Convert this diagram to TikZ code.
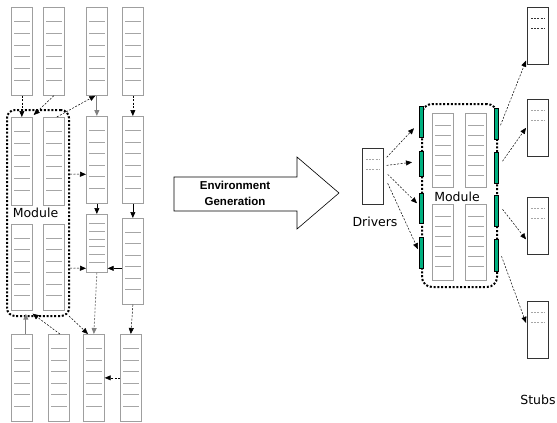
\documentclass[tikz,border=0pt]{standalone}
\usepackage{fontspec}
\setmainfont{DejaVu Sans}
\newfontfamily\arialfont{Liberation Sans}
\usetikzlibrary{arrows.meta}
\definecolor{portgreen}{RGB}{0,176,128}

\begin{document}
\begin{tikzpicture}[x=1pt,y=-1pt,
	regbox/.style={draw=gray!75, line width=0.7pt, rectangle, inner sep=0pt, minimum width=21pt, anchor=north west},
	regline/.style={draw=gray!70, line width=0.6pt},
	stubline/.style={line width=0.5pt, dash pattern=on 2pt off 1.2pt},
	modframe/.style={draw, line width=2pt, dash pattern=on 2pt off 1.8pt, rounded corners=8pt, inner sep=0pt},
	port/.style={draw, fill=portgreen, line width=0.5pt, minimum width=4pt, inner sep=0pt, anchor=north west},
	dep/.style={line width=0.5pt, dash pattern=on 2pt off 1.5pt, -{Triangle[length=6pt,width=5pt]}},
	flow/.style={line width=0.7pt, -{Triangle[length=6pt,width=5pt]}},
	lbl/.style={font=\fontsize{12.5}{15}\selectfont, inner sep=0pt}]

	\useasboundingbox (0,0) rectangle (557,423);

	% ---- left: registers

	\foreach \n/\x/\y/\h in {a1/11/7/88, b1/43/7/88, c1/86/7/88, d1/122/7/88,
		a2/11/117/88, b2/43/117/88, c2/86/116/87, d2/122/116/87,
		a3/11/224/86, b3/43/224/86, c3/86/214/58, d3/122/218/86,
		a4/11/334/87, b4/48/334/87, c4/83/334/87, d4/120/334/87}
	{
		\node[regbox, minimum height=\h pt] (\n) at (\x,\y) {};
		\foreach \k in {0,...,5}
			\draw[regline] ({\x+3},{\y+\h*(0.165+0.133*\k)}) -- ++(16,0);
	}

	% ---- left: module

	\node[modframe, minimum width=62pt, minimum height=206pt] (modL) at (38,213) {};
	\node[lbl] (modLtext) at (35.5,213) {Module};

	% ---- left: connections

	\draw[dep] (a1.south) -- (a2.north);
	\draw[dep] (b1.south) -- ([xshift=1pt,yshift=2pt]a2.north east);
	\draw[dep] ([xshift=3pt]b2.north) -- ([xshift=-1.5pt]c1.south);
	\draw[flow, gray, line width=1pt] (c1.south) -- (c2.north);
	\draw[dep] (d1.south) -- (d2.north);
	\draw[dep] ([yshift=39pt]modL.east) -- ([yshift=-14.5pt]c2.west);
	\draw[flow] (c2.south) -- (c3.north);
	\draw[flow] (d2.south) -- (d3.north);
	\draw[dep] ([yshift=-55pt]modL.east) -- ([yshift=-25pt]c3.west);
	\draw[flow] ([yshift=-7pt]d3.west) -- ([yshift=-25pt]c3.east);
	\draw[dep, gray, line width=0.8pt] (c3.south) -- (c4.north);
	\draw[dep] (d3.south) -- (d4.north);
	\draw[dep] ([xshift=-1pt,yshift=1pt]modL.south east) -- ([xshift=5pt]c4.north west);
	\draw[dep] ([xshift=1pt]b4.north) -- ([yshift=-3pt]a3.south east);
	\draw[flow, gray, line width=1pt] ([xshift=4pt]a4.north) -- ([xshift=4pt,yshift=-3pt]a3.south);
	\draw[dep] (d4.west) -- (c4.east);

	% ---- big arrow

	\draw[line width=0.6pt] (174,177) -- (297,177) -- (297,157) -- (339,193)
		-- (297,229) -- (297,211) -- (174,211) -- cycle;
	\node[font=\arialfont\bfseries\fontsize{11.5}{16}\selectfont, align=center, inner sep=0pt]
		(envtext) at (235,193) {Environment\\Generation};

	% ---- right: module

	\node[modframe, rounded corners=10pt, minimum width=75pt, minimum height=183pt] (modR) at (459.5,195.5) {};
	\foreach \n/\x/\y/\h in {m1/432/113/74, m2/465/113/74, m3/432/204/76, m4/465/204/76}
	{
		\node[regbox, minimum height=\h pt] (\n) at (\x,\y) {};
		\foreach \k in {0,...,5}
			\draw[regline] ({\x+3},{\y+12+10*\k}) -- ++(16,0);
	}
	\node[lbl] (modRtext) at (457,197) {Module};

	% ---- ports

	\foreach \n/\x/\y/\h in {pl1/419/106/31, pl2/419/151/25, pl3/419/193/30, pl4/419/237/31,
		pr1/494/108/31, pr2/494/152/31, pr3/494/195/31, pr4/494/239/32}
		\node[port, minimum height=\h pt] (\n) at (\x,\y) {};

	% ---- drivers and stubs

	\node[regbox, draw=black!80, minimum height=56pt] (drv) at (362,148) {};
	\foreach \yy in {159,169} \draw[stubline, gray!70] (366,\yy) -- ++(14,0);
	\node[lbl] (drvtext) at (375,222) {Drivers};

	\foreach \n/\y/\c in {s1/7/black!80, s2/99/gray!70, s3/197/gray!70, s4/301/gray!70}
	{
		\node[regbox, draw=black!80, minimum height=57pt] (\n) at (527,\y) {};
		\foreach \d in {11,21} \draw[stubline, \c] (531,{\y+\d}) -- ++(14,0);
	}
	\node[lbl] (stubtext) at (538,400) {Stubs};

	% ---- right: connections

	\draw[dep] ([xshift=3pt,yshift=19pt]drv.east) -- ([xshift=-5pt,yshift=-6.5pt]pl1.west);
	\draw[dep] ([xshift=3pt,yshift=11pt]drv.east) -- ([xshift=-7pt,yshift=1.5pt]pl2.west);
	\draw[dep] ([xshift=4pt,yshift=2pt]drv.east) -- ([xshift=-2pt,yshift=5pt]pl3.west);
	\draw[dep] ([xshift=4pt,yshift=-7pt]drv.east) -- ([xshift=-1pt,yshift=3.5pt]pl4.west);
	\draw[dep] ([xshift=2pt,yshift=-1.5pt]pr1.east) -- ([xshift=-1pt,yshift=4pt]s1.south west);
	\draw[dep] ([xshift=4pt,yshift=6.5pt]pr2.east) -- ([xshift=-1pt]s2.west);
	\draw[dep] ([xshift=4pt,yshift=1.5pt]pr3.east) -- ([xshift=-1pt,yshift=-13.5pt]s3.west);
	\draw[dep] ([xshift=3pt,yshift=-1pt]pr4.east) -- ([xshift=-1pt,yshift=7pt]s4.west);

\end{tikzpicture}
\end{document}
